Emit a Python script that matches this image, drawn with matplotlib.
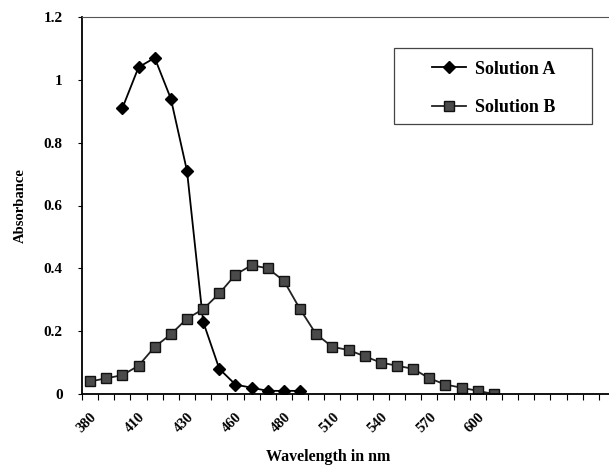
import matplotlib.pyplot as plt
from matplotlib.patches import Rectangle

# categorias do eixo x (comprimento de onda, nm)
wavelengths = [380, 390, 400, 410, 420, 425, 430, 440, 450, 460, 465, 470, 480,
               490, 500, 510, 520, 530, 540, 550, 560, 570, 580, 590, 600, 610]

# Solution A comeca no terceiro ponto (400 nm)
solutionA_start = 2
solutionA = [0.91, 1.04, 1.07, 0.94, 0.71, 0.23, 0.08, 0.03, 0.02, 0.01, 0.01, 0.01]

solutionB = [0.04, 0.05, 0.06, 0.09, 0.15, 0.19, 0.24, 0.27, 0.32, 0.38, 0.41, 0.40,
             0.36, 0.27, 0.19, 0.15, 0.14, 0.12, 0.10, 0.09, 0.08, 0.05, 0.03, 0.02,
             0.01, 0.00]

yTicks = [0, 0.2, 0.4, 0.6, 0.8, 1, 1.2]
yTickLabels = ['0', '0.2', '0.4', '0.6', '0.8', '1', '1.2']

plt.rcParams['font.family'] = ['Liberation Serif', 'DejaVu Serif']
plt.rcParams['font.weight'] = 'bold'

W, H = 609, 466
fig = plt.figure(figsize=(W / 100, H / 100), dpi=100)
ax = fig.add_axes([82 / W, 1 - 394 / H, 1.01 - 82 / W, (394 - 17) / H])

xA = list(range(solutionA_start, solutionA_start + len(solutionA)))
xB = list(range(len(solutionB)))

ax.plot(xA, solutionA, color='black', linewidth=1.3, marker='D', markersize=6,
        markerfacecolor='black', markeredgecolor='black', label='Solution A')
ax.plot(xB, solutionB, color='#222222', linewidth=1.3, marker='s', markersize=7,
        markerfacecolor='#4a4a4a', markeredgecolor='#111111', label='Solution B')

ax.set_ylim(0, 1.2)
ax.set_xlim(-0.5, 32.2)
ax.set_yticks(yTicks)
ax.set_yticklabels(yTickLabels, fontsize=11, fontweight='bold')

# rotulos a cada 3 categorias, marcas entre as categorias
labelIdx = list(range(0, len(wavelengths), 3))
ax.set_xticks(labelIdx)
ax.set_xticklabels([str(wavelengths[i]) for i in labelIdx], rotation=45, ha='right',
                   rotation_mode='anchor', fontsize=10.5, fontweight='bold')
ax.tick_params(axis='x', which='major', length=0, pad=12)
ax.set_xticks([i - 0.5 for i in range(34)], minor=True)
ax.tick_params(axis='x', which='minor', length=4, width=0.8, direction='out')
ax.tick_params(axis='y', length=3, width=0.8, direction='out', pad=11)

ax.spines['right'].set_visible(False)
for s in ['left', 'bottom']:
    ax.spines[s].set_linewidth(1.3)
ax.spines['top'].set_linewidth(0.8)
ax.spines['top'].set_color('#555555')

ax.set_xlabel('Wavelength in nm', fontsize=11.5, fontweight='bold', va='center')
ax.xaxis.set_label_coords((328 - 82) / (1.01 * W - 82), -(457 - 394) / (394 - 17))
ax.set_ylabel('Absorbance', fontsize=10.5, fontweight='bold', labelpad=12)

# moldura da legenda desenhada a parte
fig.patches.append(Rectangle((394 / W, 1 - 124 / H), 198 / W, 76 / H,
                             transform=fig.transFigure, fill=False,
                             edgecolor='#444444', linewidth=0.9))
leg = ax.legend(loc='center', bbox_to_anchor=(494 / W, 1 - 88.5 / H),
                bbox_transform=fig.transFigure, fontsize=13, frameon=False,
                labelspacing=1.2, handlelength=1.9, handletextpad=0.5, borderpad=0)
for t in leg.get_texts():
    t.set_fontweight('bold')

plt.savefig('out.png', dpi=100)
